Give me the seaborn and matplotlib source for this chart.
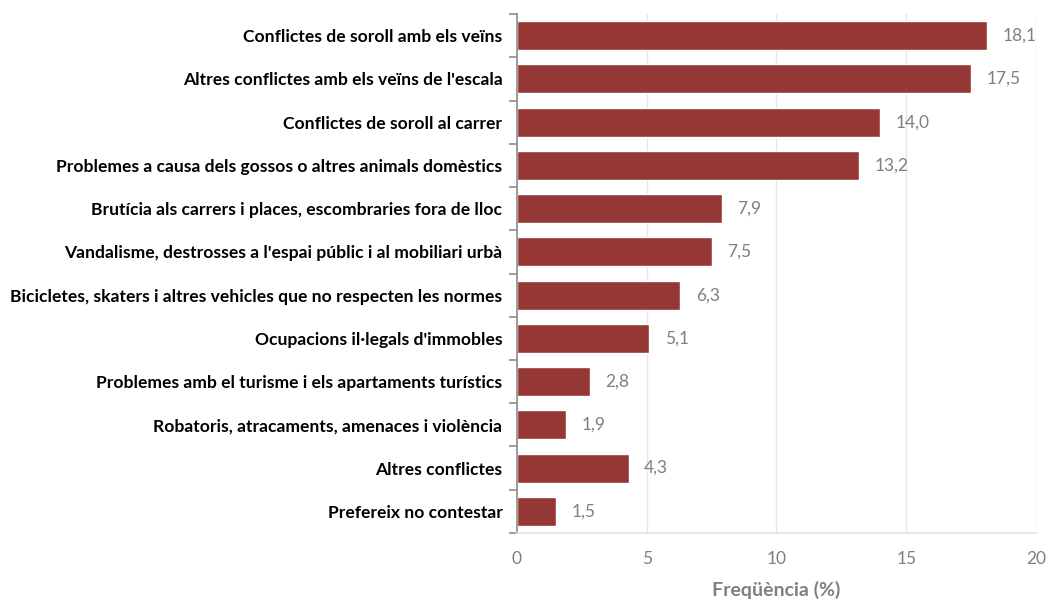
import matplotlib
matplotlib.use("Agg")
import matplotlib.pyplot as plt
import seaborn as sns
import pandas as pd
import numpy as np

categories = [
    "Conflictes de soroll amb els veïns",
    "Altres conflictes amb els veïns de l'escala",
    "Conflictes de soroll al carrer",
    "Problemes a causa dels gossos o altres animals domèstics",
    "Brutícia als carrers i places, escombraries fora de lloc",
    "Vandalisme, destrosses a l'espai públic i al mobiliari urbà",
    "Bicicletes, skaters i altres vehicles que no respecten les normes",
    "Ocupacions il·legals d'immobles",
    "Problemes amb el turisme i els apartaments turístics",
    "Robatoris, atracaments, amenaces i violència",
    "Altres conflictes",
    "Prefereix no contestar",
]
values = [18.1, 17.5, 14.0, 13.2, 7.9, 7.5, 6.3, 5.1, 2.8, 1.9, 4.3, 1.5]
x_ticks = [0, 5, 10, 15, 20]

df = pd.DataFrame({"categoria": categories, "valor": values})

sns.set_theme(style="white")
plt.rcParams["font.family"] = ["Lato", "DejaVu Sans"]

bar_color = "#953735"
gray = "#7f7f7f"

fig = plt.figure(figsize=(10.48, 5.99), dpi=100)
ax = fig.add_axes([0.4933, 0.1102, 0.4952, 0.8664])

sns.barplot(data=df, x="valor", y="categoria", color=bar_color, saturation=1,
            width=0.67, ax=ax, orient="h")

# value labels
for i, v in enumerate(values):
    ax.text(v + 0.6, i, f"{v:.1f}".replace(".", ","), va="center", ha="left",
            color=gray, fontsize=12.5)

ax.set_xlim(0, 20)
ax.set_xticks(x_ticks)
ax.set_xticklabels([str(t) for t in x_ticks], color=gray, fontsize=12.5)
ax.set_ylim(len(categories) - 0.5, -0.5)
ax.set_xlabel("Freqüència (%)", color=gray, fontsize=14, fontweight="bold", labelpad=10)
ax.set_ylabel("")

for lbl in ax.get_yticklabels():
    lbl.set_fontweight("bold")
    lbl.set_fontsize(12.6)
    lbl.set_color("black")

# gridlines
ax.grid(axis="x", color="#e6e6e6", linewidth=1)
ax.set_axisbelow(True)

# spines
for s in ["top", "right"]:
    ax.spines[s].set_visible(False)
ax.spines["bottom"].set_color("#e6e6e6")
ax.spines["left"].set_color("#8c8c8c")
ax.spines["left"].set_linewidth(1.2)

# ticks on y-axis at category boundaries
ax.set_yticks(np.arange(-0.5, len(categories), 1.0), minor=True)
ax.tick_params(axis="y", which="major", length=0, pad=10.5)
ax.tick_params(axis="y", which="minor", length=6, width=1.2, color="#8c8c8c", direction="out", left=True)
ax.tick_params(axis="x", which="major", length=0, pad=13)

fig.savefig("out.png", dpi=100)
